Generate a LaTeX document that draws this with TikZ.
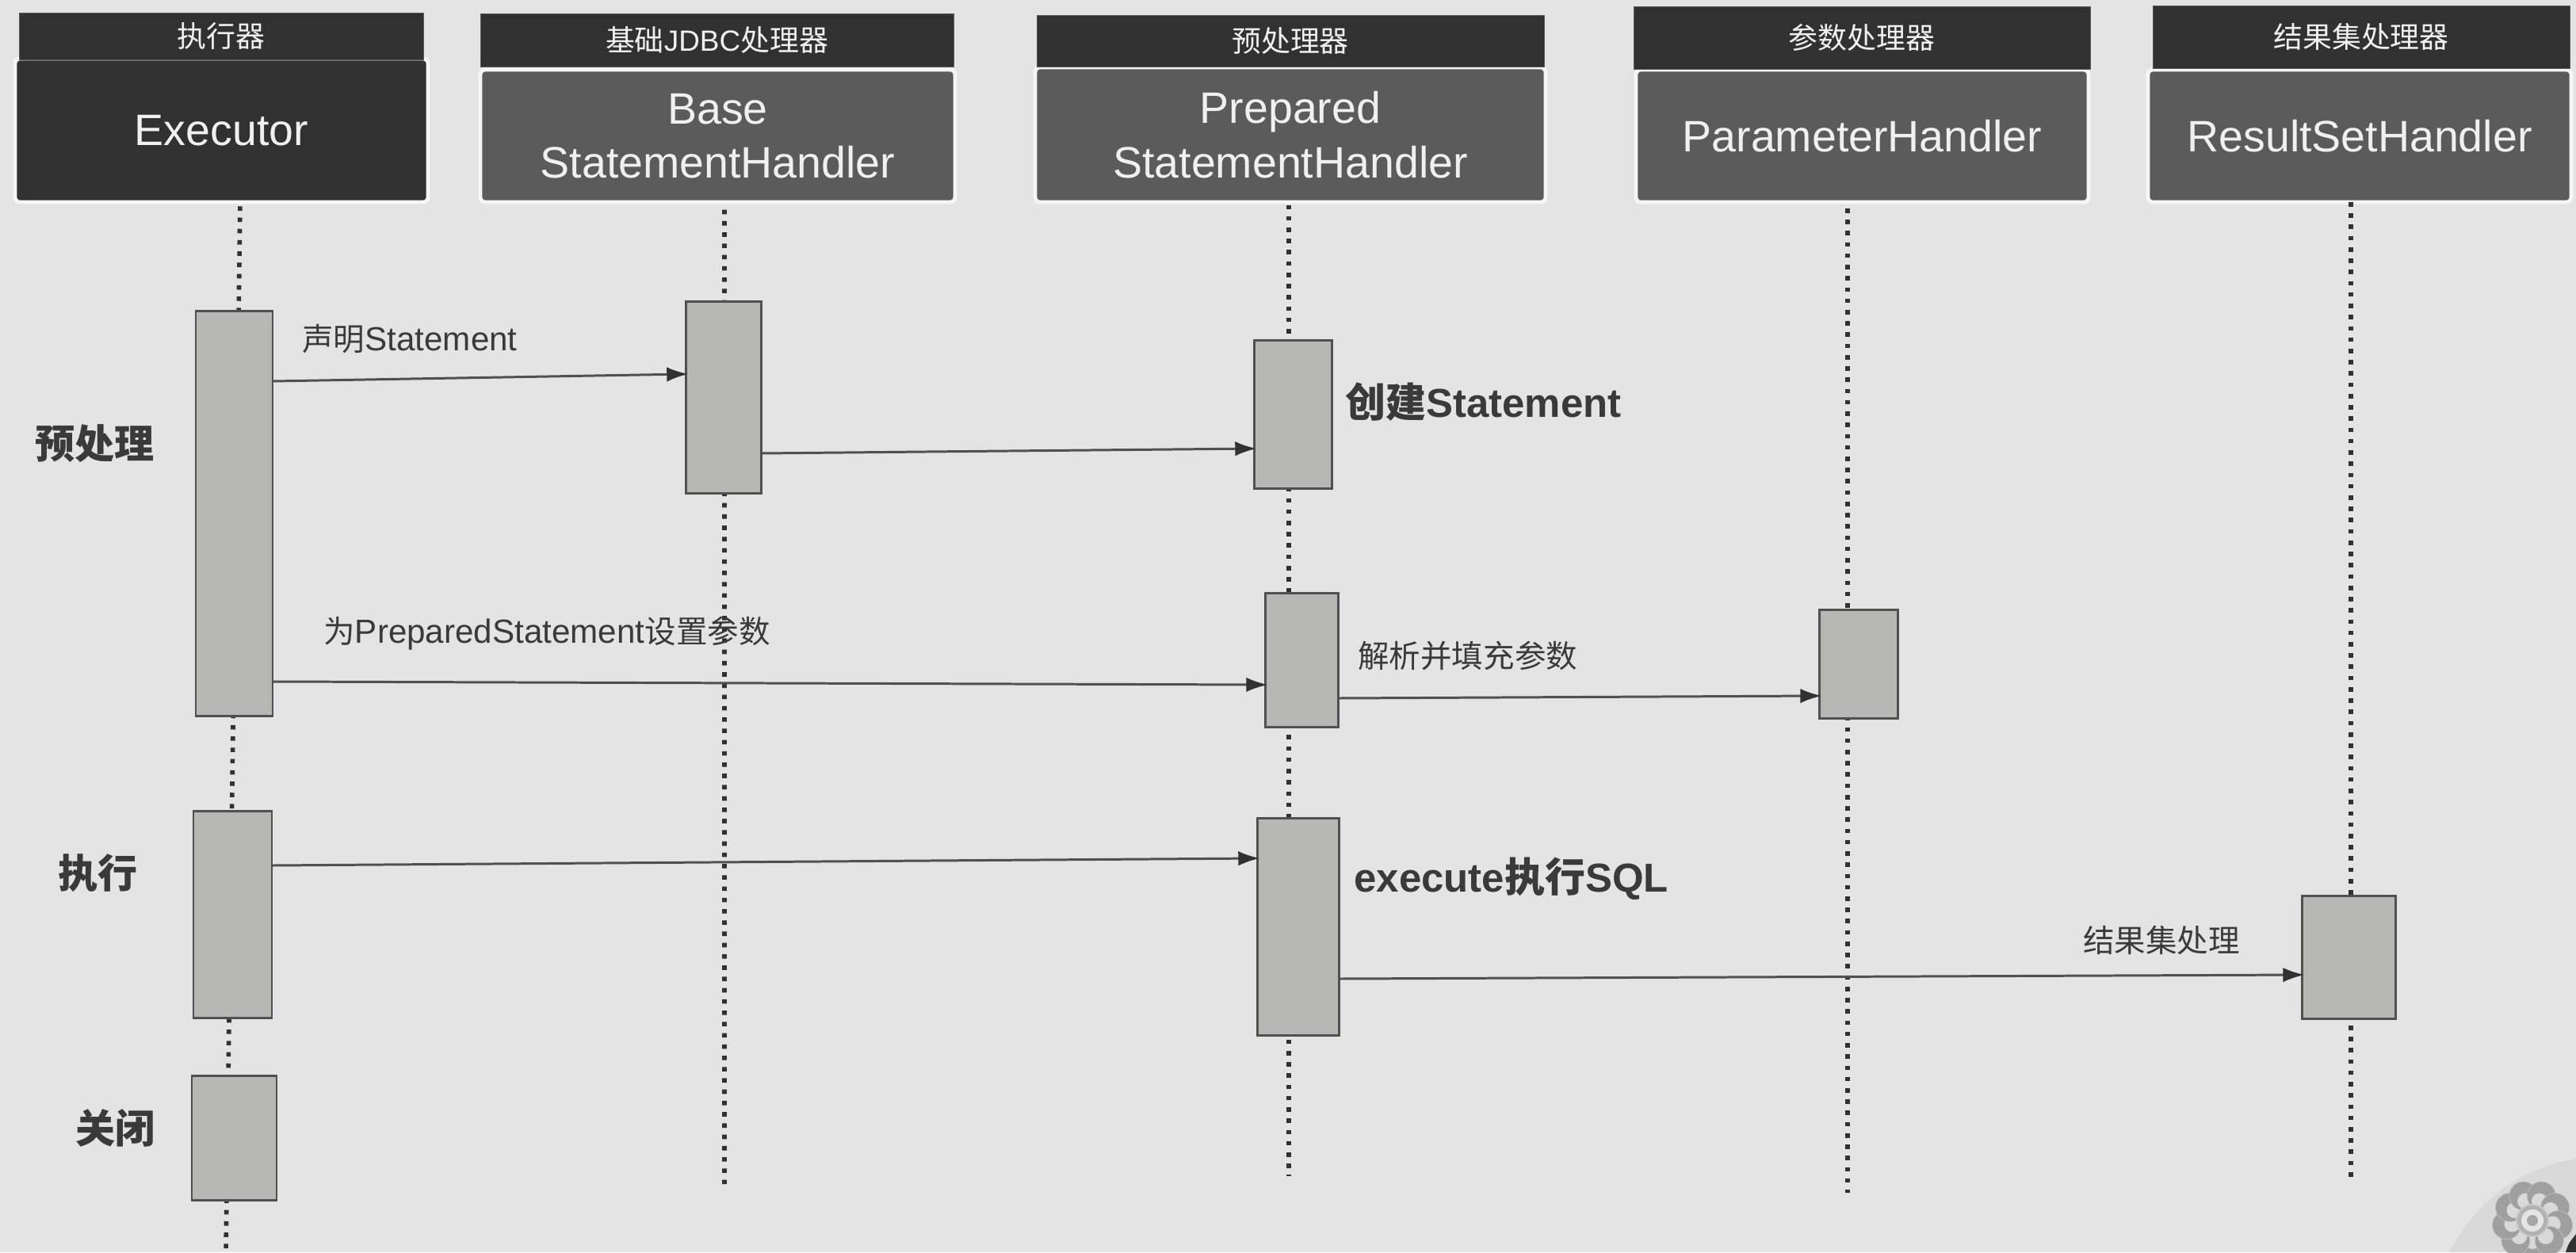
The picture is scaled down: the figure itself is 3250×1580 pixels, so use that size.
\documentclass[tikz,border=0pt]{standalone}
\usepackage{fontspec}
\setmainfont{Liberation Sans}
\newfontfamily\cjk{Noto Sans CJK SC}
\usetikzlibrary{arrows.meta}
\definecolor{bgc}{HTML}{E4E4E4}
\definecolor{barc}{HTML}{B7B7B6}
\definecolor{edgec}{HTML}{505050}
\definecolor{headc}{HTML}{313131}
\definecolor{boxc}{HTML}{5B5B5B}
\definecolor{rimc}{HTML}{F6F6F6}
\definecolor{inkc}{HTML}{3A3A3A}
\definecolor{lightc}{HTML}{F0F0F0}
\newcommand{\upx}{0.02cm}
\newcommand{\zh}[1]{{\cjk #1}}
\newcommand{\zhs}[1]{{\cjk\fontsize{22.5pt}{26pt}\selectfont #1}}
\newcommand{\zhb}[1]{{\cjk\bfseries #1}}
\newcommand{\rnode}[7][]{%
  \pgfmathsetmacro{\cxx}{(#4+#6)/2}%
  \pgfmathsetmacro{\cyy}{(#5+#7)/2}%
  \pgfmathsetmacro{\www}{(#6-#4)*0.02}%
  \pgfmathsetmacro{\hhh}{(#7-#5)*0.02}%
  \node[#2, minimum width=\www cm, minimum height=\hhh cm, #1] (#3) at (\cxx,\cyy)}
\tikzset{
  headbar/.style={rectangle, fill=headc, draw=gray!70!black, line width=0.5pt, inner sep=0pt, outer sep=0pt,
     text=lightc, font=\fontsize{21pt}{25pt}\selectfont, align=center},
  lifebox/.style={rectangle, rounded corners=3.4pt, draw=rimc, line width=2.8pt, fill=boxc, inner sep=0pt, outer sep=0pt,
     text=lightc, font=\fontsize{31.6pt}{39pt}\selectfont, align=center},
  actbar/.style={rectangle, fill=barc, draw=edgec, line width=1.7pt, inner sep=0pt, outer sep=0pt},
  lifeline/.style={draw=headc, line width=3.2pt, dash pattern=on 3.2pt off 4.9pt},
  msg/.style={draw=edgec, line width=1.7pt, shorten >=-2pt, -{Latex[length=15.5pt,width=10.5pt,color=headc]}},
  small/.style={text=inkc, inner sep=0pt, font=\fontsize{24pt}{26pt}\selectfont},
  big/.style={text=inkc, inner sep=0pt, font=\fontsize{29pt}{34pt}\selectfont\bfseries},
  phase/.style={text=inkc, inner sep=0pt, font=\fontsize{28.5pt}{32pt}\selectfont},
}
\begin{document}
\begin{tikzpicture}[x=0.02cm,y=-0.02cm]
\useasboundingbox (0,0) rectangle (3250,1580);
\fill[bgc] (0,0) rectangle (3250,1580);

% watermark corner
\fill[gray!15!bgc!90!white] (3090,1580) .. controls (3130,1505) and (3190,1472) .. (3250,1462) -- (3250,1580) -- cycle;
\foreach \a in {0,40,...,320} {
  \fill[gray!75, draw=gray!110!black!55] (3195,1540) ++(\a+90:33) circle [radius=18*\upx];
  \fill[gray!30] (3195,1540) ++(\a+90:26) circle [radius=10*\upx];
}
\fill[gray!60, draw=gray!130!black!60, line width=1pt] (3195,1540) circle [radius=20*\upx];
\fill[gray!20] (3195,1540) circle [radius=14*\upx];
\fill[gray!70] (3195,1540) circle [radius=7*\upx];
\fill[headc] (3237,1580) .. controls (3240,1570) .. (3250,1557) -- (3250,1580) -- cycle;

% lifeline free ends
\coordinate (endExec) at (285,1580);
\coordinate (endBase) at (914,1497);
\coordinate (endPrep) at (1626,1484);
\coordinate (endParam) at (2331,1505);
\coordinate (endResult) at (2966,1493);

% lifeline heads
\rnode[fill=headc]{lifebox}{exec}{19}{74}{540}{255} {Executor};
\rnode{lifebox}{base}{606}{88}{1205}{255} {Base\\StatementHandler};
\rnode{lifebox}{prep}{1306}{85}{1950}{255} {Prepared\\StatementHandler};
\rnode{lifebox}{param}{2064}{88}{2635}{255} {ParameterHandler};
\rnode{lifebox}{result}{2710}{88}{3244}{255} {ResultSetHandler};

\rnode{headbar}{hexec}{24}{16}{534}{75} {\raisebox{-1pt}{\zh{执行器}}};
\rnode{headbar}{hbase}{606}{17}{1203}{84} {\raisebox{-2pt}{\zh{基础}JDBC\zh{处理器}}};
\rnode{headbar}{hprep}{1308}{19}{1948}{84} {\raisebox{-2pt}{\zh{预处理器}}};
\rnode{headbar}{hparam}{2061}{8}{2637}{87} {\zh{参数处理器}};
\rnode{headbar}{hresult}{2716}{7}{3242}{86} {\raisebox{-1pt}{\zh{结果集处理器}}};

% lifelines
\draw[lifeline, shorten <=3pt] ([xshift=23.5*\upx]exec.south) -- (endExec);
\draw[lifeline, shorten <=5.5pt] ([xshift=8.5*\upx]base.south) -- (endBase);
\draw[lifeline, shorten <=2pt] ([xshift=-2*\upx]prep.south) -- (endPrep);
\draw[lifeline, shorten <=4.5pt] ([xshift=-18.5*\upx]param.south) -- (endParam);
\draw[lifeline] ([xshift=-11*\upx]result.south) -- (endResult);

% activation bars
\rnode{actbar}{e1}{247}{392}{344}{903} {};
\rnode{actbar}{b1}{865}{380}{960}{622} {};
\rnode{actbar}{p1}{1582}{429}{1680}{616} {};
\rnode{actbar}{p2}{1596}{748}{1688}{917} {};
\rnode{actbar}{q1}{2295}{769}{2394}{906} {};
\rnode{actbar}{e2}{244}{1023}{343}{1284} {};
\rnode{actbar}{e3}{242}{1357}{349}{1514} {};
\rnode{actbar}{p3}{1586}{1032}{1689}{1306} {};
\rnode{actbar}{r1}{2904}{1130}{3022}{1285} {};

% messages
\draw[msg] ([yshift=166.5*\upx]e1.east) -- ([yshift=29*\upx]b1.west);
\draw[msg] ([yshift=-71*\upx]b1.east) -- ([yshift=-43.5*\upx]p1.west);
\draw[msg] ([yshift=-212.5*\upx]e1.east) -- ([yshift=-31.5*\upx]p2.west);
\draw[msg] ([yshift=-48.5*\upx]p2.east) -- ([yshift=-40.5*\upx]q1.west);
\draw[msg] ([yshift=61.5*\upx]e2.east) -- ([yshift=86*\upx]p3.west);
\draw[msg] ([yshift=-66*\upx]p3.east) -- ([yshift=-22.5*\upx]r1.west);

% labels
\node[small, anchor=west] (l1) at (381,428) {\zhs{声明}Statement};
\node[small, anchor=west] (l2) at (408,799) {\zhs{为}PreparedStatement\zhs{设置参数}};
\node[small, anchor=west] (l3) at (1713,828) {\zhs{解析并填充参数}};
\node[small, anchor=west] (l4) at (2628,1186) {\zhs{结果集处理}};
\node[big, anchor=west] (l5) at (1697,507) {\zhb{创建}Statement};
\node[big, anchor=west] (l6) at (1708,1109) {execute\zhb{执行}SQL};
\node[phase, anchor=west] (s1) at (44,560) {\zhb{预处理}};
\node[phase, anchor=west] (s2) at (73,1102) {\zhb{执行}};
\node[phase, anchor=west] (s3) at (95,1423) {\zhb{关闭}};
\end{tikzpicture}
\end{document}
